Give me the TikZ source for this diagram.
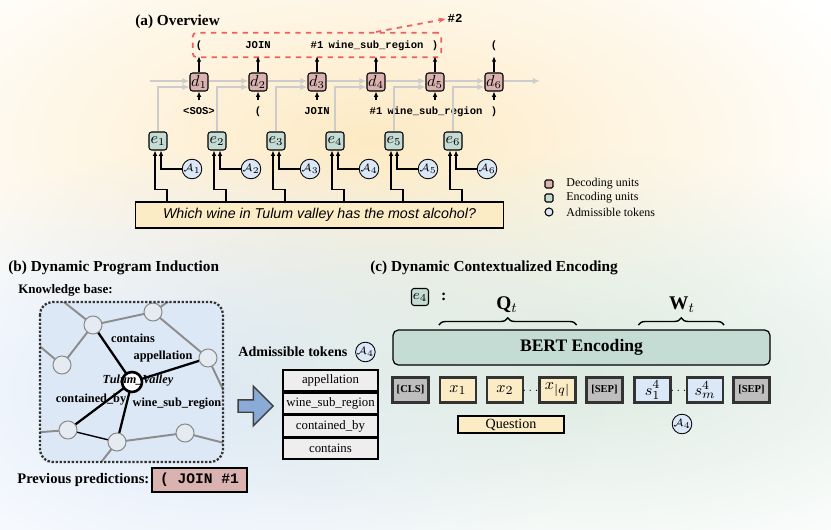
\documentclass[tikz,border=0pt]{standalone}
\usepackage{fontspec}
\setmainfont{Liberation Serif}
\setsansfont{Liberation Sans}
\setmonofont{Liberation Mono}
\usetikzlibrary{positioning,arrows.meta,shapes.arrows,decorations.pathreplacing,calc,fit,fadings}

\definecolor{decfill}{RGB}{218,178,176}
\definecolor{encfill}{RGB}{196,220,211}
\definecolor{admfill}{RGB}{219,232,248}
\definecolor{quesfill}{RGB}{252,236,198}
\definecolor{kbfill}{RGB}{221,232,246}
\definecolor{kbnode}{RGB}{230,234,241}
\definecolor{tabfill}{RGB}{238,238,238}
\definecolor{sepfill}{RGB}{190,190,190}
\definecolor{arrowblue}{RGB}{138,170,215}
\definecolor{dashred}{RGB}{238,95,95}
\definecolor{glowa}{RGB}{253,234,196}
\definecolor{glowb}{RGB}{220,232,248}
\definecolor{glowc}{RGB}{220,234,225}

\tikzfading[name=glowfade, inner color=transparent!0, outer color=transparent!100]

\tikzset{
  title/.style={font=\fontsize{8.7}{10}\selectfont\bfseries, anchor=west, inner sep=0},
  dec/.style={draw, rounded corners=1.5pt, fill=decfill, minimum size=0.36cm, inner sep=0, line width=0.6pt, font=\fontsize{9}{10}\selectfont},
  enc/.style={dec, fill=encfill},
  adm/.style={draw, circle, fill=admfill, minimum size=0.32cm, inner sep=0, line width=0.5pt, font=\fontsize{6.5}{7}\selectfont},
  tok/.style={font=\fontsize{6}{7}\selectfont\ttfamily\bfseries, inner xsep=1pt, inner ysep=3pt, text height=5pt, text depth=1.5pt},
  grayarrow/.style={draw=black!20, line width=0.8pt, -{Latex[length=4pt,width=3.5pt]}},
  blackarrow/.style={draw=black, line width=0.7pt, -{Latex[length=3pt,width=2.6pt]}},
  legbox/.style={draw, rounded corners=0.8pt, minimum size=0.16cm, inner sep=0, line width=0.6pt},
  legtext/.style={font=\fontsize{6.8}{8}\selectfont, inner sep=0, anchor=west},
  kbedge/.style={draw=black!45, line width=1.1pt},
  kbbold/.style={draw=black, line width=1.3pt},
  kbn/.style={draw=black!45, circle, fill=kbnode, minimum size=0.36cm, inner sep=0, line width=0.6pt},
  kbc/.style={draw=black, circle, fill=white, minimum size=0.4cm, inner sep=0, line width=1.5pt},
  kblab/.style={font=\fontsize{7}{8}\selectfont\bfseries, inner sep=0},
  admrow/.style={draw, fill=tabfill, line width=1pt, minimum width=1.9cm, minimum height=0.42cm, inner sep=0, font=\fontsize{7.3}{8}\selectfont},
  seg/.style={draw=black!80, line width=1.3pt, minimum width=0.72cm, minimum height=0.5cm, inner sep=0, font=\fontsize{9.5}{10}\selectfont},
  sepseg/.style={seg, fill=sepfill, font=\fontsize{6}{7}\selectfont\bfseries},
  brace/.style={decorate, decoration={brace, amplitude=4pt}, line width=0.8pt}
}

\begin{document}
\begin{tikzpicture}[x=0.02cm, y=-0.02cm]
\useasboundingbox (0,0) rectangle (831,530);

% soft background glows
\fill[glowa, path fading=glowfade] (370,140) ellipse [x radius=520, y radius=250];
\fill[glowb, path fading=glowfade] (210,390) ellipse [x radius=400, y radius=240];
\fill[glowc, path fading=glowfade] (590,370) ellipse [x radius=480, y radius=220];

% (a) overview
\node[title] (ta) at (135,22) {(a) Overview};
\foreach \i in {1,...,6}{
  \pgfmathtruncatemacro\xd{140+59*\i}
  \pgfmathtruncatemacro\xe{99+59*\i}
  \pgfmathtruncatemacro\xa{133+59*\i}
  \node[dec] (d\i) at (\xd,82) {$d_{\i}$};
  \node[enc] (e\i) at (\xe,141) {$e_{\i}$};
  \node[adm] (A\i) at (\xa,169) {$\mathcal{A}_{\i}$};
}
\node[tok] (o1) at (d1 |- 0,45) {(};
\node[tok] (o2) at (d2 |- 0,45) {JOIN};
\node[tok] (o3) at (d3 |- 0,45) {\#1};
\node[tok] (o4) at (d4 |- 0,45) {wine\_sub\_region};
\node[tok] (o5) at (d5 |- 0,45) {)};
\node[tok] (o6) at (d6 |- 0,45) {(};
\node[tok] (i1) at (d1 |- 0,111) {<SOS>};
\node[tok] (i2) at (d2 |- 0,111) {(};
\node[tok] (i3) at (d3 |- 0,111) {JOIN};
\node[tok] (i4) at (d4 |- 0,111) {\#1};
\node[tok] (i5) at (d5 |- 0,111) {wine\_sub\_region};
\node[tok] (i6) at (d6 |- 0,111) {)};
\node[draw=dashred, dashed, line width=1pt, rounded corners=2pt, inner sep=0.5pt, fit=(o1)(o5)] (outbox) {};
\node[tok, font=\fontsize{7}{8}\selectfont\ttfamily\bfseries] (hash2) at (455,19) {\#2};
\draw[dashred, dashed, line width=1pt, -{Stealth[length=4pt]}] (outbox.north -| d4) -- (hash2.west);

\coordinate (mainstart) at (150,81);
\coordinate (mainend) at (540,81);
\draw[grayarrow] (mainstart) -- (d1.west |- mainstart);
\foreach \i [count=\j from 2] in {1,...,5}
  \draw[grayarrow] (d\i.east |- mainstart) -- (d\j.west |- mainstart);
\draw[grayarrow] (d6.east |- mainstart) -- (mainend);

\node[draw, fill=quesfill, line width=0.6pt, minimum width=7.38cm, minimum height=0.52cm, font=\sffamily\itshape\fontsize{8.1}{10}\selectfont] (q) at (319.5,215) {Which wine in Tulum valley has the most alcohol?};

\foreach \i in {1,...,6}{
  \draw[blackarrow] (d\i.north) -- (o\i.south);
  \draw[blackarrow] (i\i.north) -- (d\i.south);
  \draw[grayarrow] (e\i.north) |- (d\i.west |- 0,87);
  \draw[blackarrow] (A\i.west) -| ($(e\i.south)+(3,0)$);
  \draw[blackarrow] ($(q.north -| e\i)+(9,0)$) -- ++(0,-12) -| ($(e\i.south)+(-3,0)$);
}

% legend
\node[legbox, fill=decfill] (l1) at (549,184) {};
\node[legbox, fill=encfill] (l2) at (549,198) {};
\node[legbox, circle, fill=admfill] (l3) at (549,212) {};
\node[legtext, right=0.25cm of l1] {Decoding units};
\node[legtext, right=0.25cm of l2] {Encoding units};
\node[legtext, right=0.25cm of l3] {Admissible tokens};

% (b) dynamic program induction
\node[title] (tb) at (8,268) {(b) Dynamic Program Induction};
\node[title, font=\fontsize{7.4}{9}\selectfont\bfseries] (kbt) at (18,290) {Knowledge base:};
\fill[kbfill, rounded corners=0.25cm] (40,302) rectangle (223,462);
\coordinate (p1) at (93,325);
\coordinate (p2) at (153,312);
\coordinate (p3) at (62,365);
\coordinate (p4) at (208,358);
\coordinate (p5) at (68,430);
\coordinate (p6) at (117,442);
\coordinate (p7) at (185,433);
\coordinate (pc) at (132,382);
\begin{scope}
  \clip[rounded corners=0.25cm] (40,302) rectangle (223,462);
  \draw[kbedge] (55,295) -- (p1) -- (p2) -- (175,297);
  \draw[kbedge] (p2) -- (p4) -- (228,400);
  \draw[kbedge] (p1) -- (p3) -- (30,338);
  \draw[kbedge] (30,433) -- (p5);
  \draw[kbedge] (95,470) -- (p6) -- (p7) -- (232,445);
  \draw[kbbold] (pc) -- (p1);
  \draw[kbbold] (pc) -- (p4);
  \draw[kbbold] (pc) -- (p5);
  \draw[kbbold] (pc) -- (p6);
  \draw[black, line width=0.8pt] (p5) -- (p6);
\end{scope}
\foreach \k in {1,...,7} \node[kbn] (n\k) at (p\k) {};
\node[kbc] (tv) at (pc) {};
\node[kblab] at (133,338) {contains};
\node[kblab] at (163,357) {appellation};
\node[kblab, font=\fontsize{7}{8}\selectfont\bfseries\itshape] at (138,381) {Tulum\_Valley};
\node[kblab] at (91,400) {contained\_by};
\node[kblab] at (177,404) {wine\_sub\_region};
\draw[black!80, densely dotted, line width=1.3pt, rounded corners=0.25cm] (40,302) rectangle (223,462);

\node[title, font=\fontsize{8.3}{10}\selectfont\bfseries] (prevt) at (17,480) {Previous predictions:};
\node[draw, fill=decfill, line width=0.8pt, minimum width=1.9cm, minimum height=0.48cm, inner sep=0, font=\fontsize{8.3}{10}\selectfont\ttfamily\bfseries] (prev) at (199.5,480) {( JOIN \#1};

\node[single arrow, draw=black!75, fill=arrowblue, line width=0.8pt, minimum height=0.7cm, inner sep=0.11cm, single arrow head extend=0.27cm] (barrow) at (252.5,406) {};

\node[title, font=\fontsize{8}{10}\selectfont\bfseries] (admt) at (238,352) {Admissible tokens};
\node[adm, right=0.15cm of admt] (A4b) {$\mathcal{A}_4$};
\node[admrow] (r1) at (330.5,380.5) {appellation};
\node[admrow, below=0pt of r1] (r2) {wine\_sub\_region};
\node[admrow, below=0pt of r2] (r3) {contained\_by};
\node[admrow, below=0pt of r3] (r4) {contains};

% (c) dynamic contextualized encoding
\node[title] (tc) at (370,268) {(c) Dynamic Contextualized Encoding};
\node[enc, minimum size=0.34cm, font=\fontsize{8}{9}\selectfont] (e4c) at (420,297) {$e_4$};
\node[font=\fontsize{9}{10}\selectfont\bfseries, right=0.12cm of e4c] (colon) {:};
\node[draw, fill=encfill, rounded corners=3pt, line width=0.7pt, minimum width=7.54cm, minimum height=0.7cm, font=\fontsize{10}{12}\selectfont\bfseries] (bert) at (581.5,347.5) {BERT Encoding};
\node[sepseg] (cls) at (410.5,390) {[CLS]};
\node[seg, fill=quesfill] (x1) at (458,390) {$x_1$};
\node[seg, fill=quesfill] (x2) at (505,390) {$x_2$};
\node[font=\fontsize{6}{7}\selectfont] (dots1) at (530.5,391) {$\cdots$};
\node[seg, fill=quesfill] (xq) at (557.5,390) {$x_{|q|}$};
\node[sepseg] (sep1) at (604.5,390) {[SEP]};
\node[seg, fill=admfill] (s1) at (652.5,390) {$s^{4}_{1}$};
\node[font=\fontsize{6}{7}\selectfont] (dots2) at (678.5,391) {$\cdots$};
\node[seg, fill=admfill] (sm) at (705,390) {$s^{4}_{m}$};
\node[sepseg] (sep2) at (751.5,390) {[SEP]};
\draw[brace] (x1.west |- 0,325) -- (xq.east |- 0,325);
\draw[brace] ($(s1.west |- 0,325)+(5,0)$) -- (sm.east |- 0,325);
\node[font=\fontsize{11}{12}\selectfont] (qt) at (507,305) {$\mathbf{Q}_t$};
\node[font=\fontsize{11}{12}\selectfont] (wt) at (682,305) {$\mathbf{W}_t$};
\node[draw, fill=quesfill, line width=0.6pt, minimum width=2.12cm, minimum height=0.34cm, inner sep=0, font=\fontsize{8}{9}\selectfont] (qlab) at (511,424.5) {Question};
\node[adm] (A4c) at (682,424) {$\mathcal{A}_4$};
\end{tikzpicture}
\end{document}
